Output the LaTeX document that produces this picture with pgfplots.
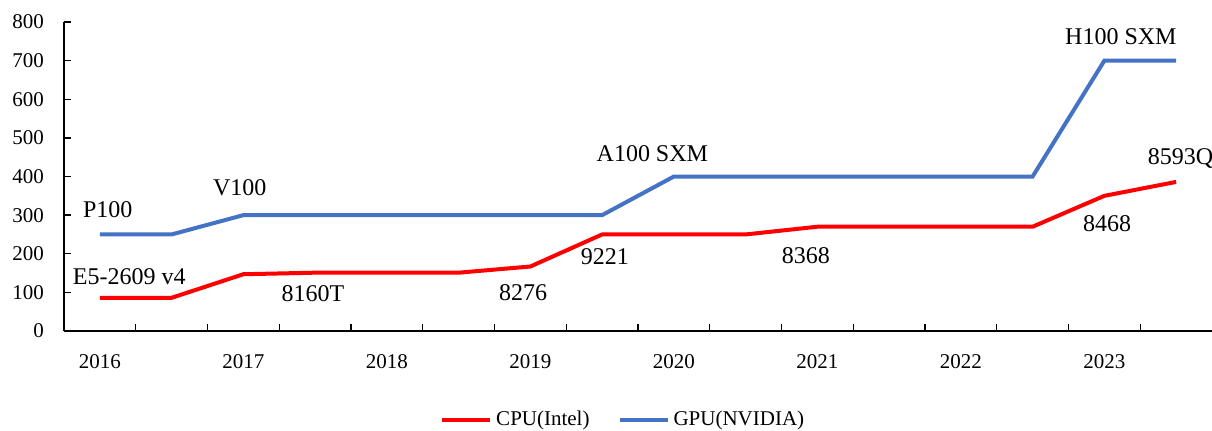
\documentclass[border=0pt]{standalone}
\usepackage{pgfplots}
\pgfplotsset{compat=1.18}
\usepackage{fontspec}
\setmainfont{Liberation Serif}
\definecolor{cpured}{RGB}{255,0,0}
\definecolor{gpublue}{RGB}{68,114,196}
\begin{document}
\begin{tikzpicture}
\path[use as bounding box] (-32pt,-49.5pt) rectangle (574pt,165.5pt);
\begin{axis}[
  at={(0,0)}, anchor=south west,
  scale only axis, width=574pt, height=154.5pt,
  xmin=-0.5, xmax=15.5, ymin=0, ymax=800,
  clip=false,
  axis lines=left,
  axis line style={-, line width=0.7pt},
  tick align=inside,
  major tick length=3.5pt,
  every tick/.style={black, line width=0.7pt},
  /pgf/number format/assume math mode=true,
  ytick={0,100,...,800},
  xtick={0.5,1.5,...,14.5},
  xticklabels={},
  extra x ticks={0,2,4,6,8,10,12,14},
  extra x tick labels={2016,2017,2018,2019,2020,2021,2022,2023},
  extra x tick style={major tick length=0pt},
  tick label style={font=\fontsize{10.5}{12}\selectfont},
  yticklabel style={xshift=-6.5pt},
  xticklabel style={yshift=-8pt},
  legend style={at={(0.488,-0.288)}, anchor=center, draw=none,
    font=\fontsize{10.5}{12}\selectfont,
    /tikz/every even column/.append style={column sep=12pt}},
  legend columns=2,
  legend image code/.code={\draw[#1, line width=2pt] (0pt,0pt) -- (24pt,0pt);},
]
\addplot[cpured, line width=2pt] coordinates {
(0,86) (1,86) (2,147) (3,151) (4,151) (5,151) (6,167) (7,250)
(8,250) (9,250) (10,270) (11,270) (12,270) (13,270) (14,350) (15,386)};
\addlegendentry{CPU(Intel)}
\addplot[gpublue, line width=2pt] coordinates {
(0,250) (1,250) (2,300) (3,300) (4,300) (5,300) (6,300) (7,300)
(8,400) (9,400) (10,400) (11,400) (12,400) (13,400) (14,700) (15,700)};
\addlegendentry{GPU(NVIDIA)}
\begin{scope}[every node/.style={font=\fontsize{12}{14}\selectfont}]
\node at (axis cs:0.11,313) {P100};
\node at (axis cs:1.95,371) {V100};
\node at (axis cs:7.70,460) {A100 SXM};
\node at (axis cs:14.23,762) {H100 SXM};
\node at (axis cs:15.06,448) {8593Q};
\node at (axis cs:14.04,277) {8468};
\node at (axis cs:9.84,194) {8368};
\node at (axis cs:7.04,192) {9221};
\node at (axis cs:5.90,100) {8276};
\node at (axis cs:2.97,98) {8160T};
\node at (axis cs:0.41,142) {E5-2609 v4};
\end{scope}
\end{axis}
\end{tikzpicture}
\end{document}
